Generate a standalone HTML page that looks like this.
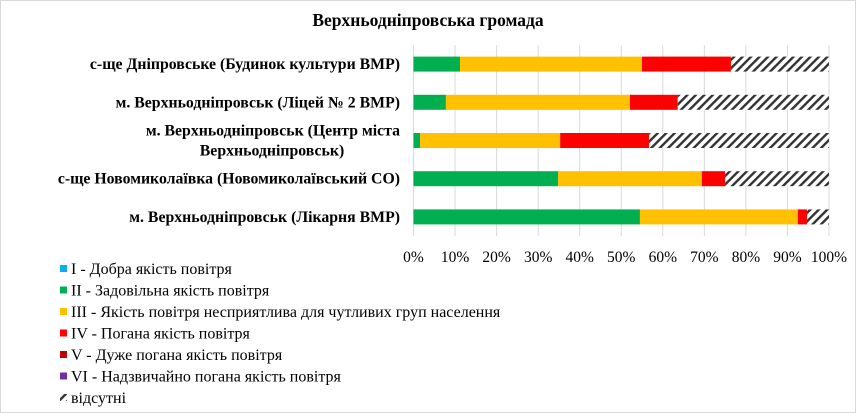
<!DOCTYPE html>
<html><head><meta charset="utf-8"><style>
body{margin:0;background:#fff}
svg{display:block;font-family:"Liberation Serif",serif}
</style></head><body>
<svg id="chart" width="856" height="413" xmlns="http://www.w3.org/2000/svg">
<defs>
<pattern id="hatch" patternUnits="userSpaceOnUse" width="6" height="6" patternTransform="rotate(45)">
<rect width="6" height="6" fill="#fff"/><rect width="2.4" height="6" fill="#333"/>
</pattern>
</defs>
<rect x="0.5" y="0.5" width="855" height="412" fill="#fff" stroke="#d9d9d9"/>
<text x="428" y="26" text-anchor="middle" font-weight="bold" font-size="17.5">Верхньодніпровська громада</text>
<g id="grid"></g><g id="bars"></g><g id="labels"></g><g id="ticks"></g><g id="legend"></g>
</svg>
<script>
const categories=[["с-ще Дніпровське (Будинок культури ВМР)"],["м. Верхньодніпровськ (Ліцей № 2 ВМР)"],["м. Верхньодніпровськ (Центр міста","Верхньодніпровськ)"],["с-ще Новомиколаївка (Новомиколаївський СО)"],["м. Верхньодніпровськ (Лікарня ВМР)"]];
const seriesI=[0,0,0,0,0];
const seriesII=[11.2,7.8,1.6,34.8,54.5];
const seriesIII=[43.8,44.3,33.7,34.6,38.0];
const seriesIV=[21.4,11.5,21.4,5.6,2.2];
const seriesV=[0,0,0,0,0];
const seriesVI=[0,0,0,0,0];
const seriesMissing=[23.6,36.4,43.3,25.0,5.3];
const tickLabels=["0%","10%","20%","30%","40%","50%","60%","70%","80%","90%","100%"];
const legendLabels=["I - Добра якість  повітря","II - Задовільна якість  повітря","III - Якість  повітря несприятлива для чутливих груп населення","IV - Погана якість  повітря","V - Дуже погана якість  повітря","VI - Надзвичайно погана якість  повітря","відсутні"];
const colors=["#00b0f0","#00b050","#ffc000","#ff0000","#c00000","#7030a0","url(#hatch)"];
const series=[seriesI,seriesII,seriesIII,seriesIV,seriesV,seriesVI,seriesMissing];
const NS="http://www.w3.org/2000/svg";
const x0=413.5,x1=829,yTop=45,yBot=236;
const xs=v=>x0+(x1-x0)*v/100;
const band=(yBot-yTop)/categories.length;
const yc=i=>yTop+band*(i+0.5);
function mk(t,a,p){const e=document.createElementNS(NS,t);for(const k in a)e.setAttribute(k,a[k]);p.appendChild(e);return e;}
const grid=document.getElementById('grid');
tickLabels.forEach((t,i)=>{
  const x=xs(i*10);
  const l=mk('line',{x1:x,x2:x,y1:yTop,y2:yBot,stroke:'#d9d9d9'},grid);
  
  
  const tx=mk('text',{x:x,y:262,'text-anchor':'middle','font-size':15.5},document.getElementById('ticks'));
  tx.textContent=t;
  
  
});
const bars=document.getElementById('bars');
categories.forEach((c,i)=>{
  let acc=0;
  series.forEach((s,k)=>{
    const v=s[i];if(v>0){
      const r=mk('rect',{x:xs(acc),y:yc(i)-7.5,width:xs(acc+v)-xs(acc),height:15,fill:colors[k]},bars);
      
      
    }
    acc+=v;
  });
  const t=mk('text',{x:400,'text-anchor':'end','font-size':15.8,'font-weight':'bold'},document.getElementById('labels'));
  
  
  if(c.length===1){t.setAttribute('y',yc(i)+5);t.textContent=c[0];}
  else{
    const a=mk('tspan',{x:400,y:yc(i)-5},t);a.textContent=c[0];
    const b=mk('tspan',{x:272,y:yc(i)+15,'text-anchor':'middle'},t);b.textContent=c[1];
  }
});
const lg=document.getElementById('legend');
legendLabels.forEach((t,i)=>{
  const y=269+i*21.5;
  const sw=mk('rect',{x:60,y:y-4,width:7,height:7,fill:colors[i]},lg);
  
  
  const tx=mk('text',{x:71,y:y+5,'font-size':16},lg);
  tx.textContent=t;
  
  
});
</script>
</body></html>
